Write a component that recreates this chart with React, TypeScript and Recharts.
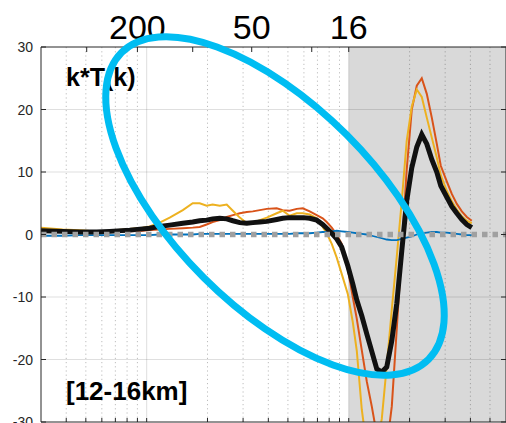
import { Line, LineChart, ReferenceArea, ReferenceLine, XAxis, YAxis } from "recharts";

// wavenumber samples shared by every curve (log axis)
const waveK = [
  3.0, 3.84, 4.66, 5.66, 6.56, 8.24, 9.55, 10.35, 11.6, 13.0, 15.1, 16.9, 18.3, 19.8, 21.2, 23.0, 24.9, 26.7, 28.9,
  31.3, 33.5, 36.3, 39.3, 44.0, 47.1, 51.0, 55.3, 59.2, 64.1, 69.4, 74.3, 77.8, 82.4, 87.2, 92.3, 98.9, 104.7, 109.6,
  116.0, 122.8, 130.0, 137.6, 145.7, 154.2, 163.3, 172.9, 183.0, 193.6, 205.1, 217.1, 229.8, 243.3, 257.6, 272.7,
  285.4, 305.5, 323.5, 342.6, 362.7, 383.9, 406.3,
];

const blueT = [
  -0.2, -0.2, -0.1, -0.1, -0.1, -0.1, -0.1, -0.1, 0.0, 0.0, 0.0, 0.0, 0.1, 0.1, 0.1, 0.1, 0.1, 0.1, 0.1, 0.1, 0.1, 0.1,
  0.1, 0.1, 0.1, 0.1, 0.2, 0.2, 0.2, 0.3, 0.4, 0.4, 0.5, 0.6, 0.5, 0.4, 0.3, 0.2, 0.1, 0.0, -0.2, -0.4, -0.6, -0.8,
  -0.9, -0.9, -0.7, -0.5, -0.3, 0.0, 0.2, 0.3, 0.4, 0.4, 0.3, 0.3, 0.2, 0.1, 0.0, -0.1, -0.1,
];

const orangeT = [
  0.5, 0.4, 0.3, 0.3, 0.4, 0.5, 0.6, 0.7, 0.8, 0.9, 1.0, 1.1, 1.2, 1.6, 2.0, 2.3, 2.8, 3.1, 3.4, 3.6, 3.7, 3.9, 4.1,
  4.2, 3.9, 3.8, 4.1, 4.2, 3.7, 3.1, 2.6, 2.0, 1.1, 0.0, -1.5, -5.5, -10.0, -13.5, -18.5, -23.5, -27.5, -32.0, -35.0,
  -34.0, -27.5, -15.0, -2.1, 10.4, 20.0, 23.8, 25.0, 22.5, 18.7, 14.5, 11.0, 8.5, 6.5, 4.9, 3.7, 2.8, 2.2,
];

const yellowT = [
  1.1, 0.8, 0.7, 0.5, 0.6, 0.9, 1.1, 1.3, 1.9, 2.7, 3.9, 5.0, 5.0, 4.6, 4.8, 4.6, 4.8, 3.8, 2.7, 1.8, 1.9, 2.3, 2.7,
  3.4, 3.8, 3.0, 3.4, 3.4, 3.2, 2.6, 1.2, 0.2, -1.5, -3.7, -6.3, -9.5, -14.0, -18.6, -28.0, -34.0, -36.0, -34.0, -29.5,
  -21.0, -12.0, -3.5, 5.4, 15.0, 20.5, 23.2, 22.0, 18.7, 15.5, 12.3, 9.5, 7.0, 5.3, 4.0, 2.9, 2.2, 1.8,
];

const blackT = [
  0.6, 0.5, 0.4, 0.4, 0.5, 0.7, 0.9, 1.0, 1.3, 1.5, 1.8, 2.0, 2.2, 2.3, 2.5, 2.6, 2.5, 2.2, 1.9, 1.8, 1.9, 2.0, 2.1,
  2.4, 2.6, 2.7, 2.7, 2.7, 2.6, 2.3, 1.6, 1.0, 0.2, -0.7, -2.0, -5.0, -7.9, -10.5, -13.0, -15.9, -18.7, -21.5, -22.0,
  -21.2, -17.0, -11.0, -2.6, 5.4, 10.7, 14.0, 16.0, 14.5, 12.0, 10.0, 7.8, 6.0, 4.5, 3.4, 2.4, 1.6, 1.1,
];

const yTicks = [-30, -20, -10, 0, 10, 20, 30];
const gridY = [-20, -10, 10, 20];
const majorK = [10, 100];
const minorK = [4, 5, 6, 7, 8, 9, 20, 30, 40, 50, 60, 70, 80, 90, 200, 300, 400, 500];
const bottomTickK = [4, 5, 6, 7, 8, 9, 10, 20, 30, 40, 50, 60, 70, 80, 90, 100, 200, 300, 400, 500];
const topTickK = [5.05, 9.0, 16.9, 33.1, 65.6, 100];
const topTickLabels = ["", "200", "", "50", "", "16"];

const K_DOMAIN: [number, number] = [3, 600];
const T_DOMAIN: [number, number] = [-30, 30];
const SHADE_FROM = 100;

const rows = waveK.map((k, i) => ({
  k,
  blue: blueT[i],
  orange: orangeT[i],
  yellow: yellowT[i],
  black: blackT[i],
}));

const AXIS_INK = "#262626";
const FONT = "'Liberation Sans', Arial, Helvetica, sans-serif";

function LeftTick({ x, y, payload }: any) {
  return (
    <g>
      <line x1={x + 8} x2={x + 13} y1={y} y2={y} stroke={AXIS_INK} />
      <text x={x} y={y} textAnchor="end" dominantBaseline="central" fontSize={14} fill={AXIS_INK} fontFamily={FONT}>
        {payload.value}
      </text>
    </g>
  );
}

function RightTick({ x, y }: any) {
  return <line x1={x - 8} x2={x - 13} y1={y} y2={y} stroke={AXIS_INK} />;
}

function BottomTick({ x, y }: any) {
  return <line x1={x} x2={x} y1={y - 8} y2={y - 12} stroke={AXIS_INK} />;
}

function TopTick({ x, y, payload }: any) {
  const label = topTickLabels[topTickK.indexOf(payload.value)];
  return (
    <g>
      <line x1={x} x2={x} y1={y + 8} y2={y + 13} stroke={AXIS_INK} />
      <text x={x} y={y} textAnchor="middle" fontSize={34} fill="#000" fontFamily={FONT}>
        {label}
      </text>
    </g>
  );
}

export default function App() {
  return (
    <div style={{ position: "absolute", left: 0, top: 0, width: 506, height: 423, overflow: "hidden", background: "#fff" }}>
      <LineChart width={520} height={440} data={rows} margin={{ top: 0, right: 4, bottom: 8, left: 0 }}>
        <XAxis
          xAxisId="bottom"
          dataKey="k"
          type="number"
          scale="log"
          domain={K_DOMAIN}
          allowDataOverflow
          ticks={bottomTickK}
          interval={0}
          height={10}
          tickSize={6}
          tickMargin={2}
          tickLine={false}
          tick={BottomTick}
          axisLine={{ stroke: AXIS_INK }}
        />
        <XAxis
          xAxisId="top"
          orientation="top"
          dataKey="k"
          type="number"
          scale="log"
          domain={K_DOMAIN}
          allowDataOverflow
          ticks={topTickK}
          interval={0}
          height={47}
          tickSize={6}
          tickMargin={2}
          tickLine={false}
          tick={TopTick}
          axisLine={{ stroke: AXIS_INK }}
        />
        <YAxis
          yAxisId="left"
          type="number"
          domain={T_DOMAIN}
          allowDataOverflow
          ticks={yTicks}
          interval={0}
          width={41}
          tickSize={6}
          tickMargin={2}
          tickLine={false}
          tick={LeftTick}
          axisLine={{ stroke: AXIS_INK }}
        />
        <YAxis
          yAxisId="right"
          orientation="right"
          type="number"
          domain={T_DOMAIN}
          allowDataOverflow
          ticks={yTicks}
          interval={0}
          width={10}
          tickSize={6}
          tickMargin={2}
          tickLine={false}
          tick={RightTick}
          axisLine={{ stroke: AXIS_INK }}
        />

        {/* shaded high-wavenumber band */}
        <ReferenceArea
          xAxisId="bottom"
          yAxisId="left"
          x1={SHADE_FROM}
          x2={K_DOMAIN[1]}
          y1={T_DOMAIN[0]}
          y2={T_DOMAIN[1]}
          fill="#D9D9D9"
          fillOpacity={1}
          stroke="none"
        />

        {/* grid */}
        {gridY.map((v) => (
          <ReferenceLine key={`gy${v}`} xAxisId="bottom" yAxisId="left" y={v} stroke={AXIS_INK} strokeOpacity={0.15} />
        ))}
        {majorK.map((v) => (
          <ReferenceLine key={`gx${v}`} xAxisId="bottom" yAxisId="left" x={v} stroke={AXIS_INK} strokeOpacity={0.15} />
        ))}
        {minorK.map((v) => (
          <ReferenceLine
            key={`mx${v}`}
            xAxisId="bottom"
            yAxisId="left"
            x={v}
            stroke={AXIS_INK}
            strokeOpacity={0.3}
            strokeDasharray="1.2 3"
          />
        ))}

        <Line xAxisId="bottom" yAxisId="left" dataKey="orange" stroke="#D95319" strokeWidth={2} dot={false} activeDot={false} isAnimationActive={false} />
        <Line xAxisId="bottom" yAxisId="left" dataKey="yellow" stroke="#EDB120" strokeWidth={2} dot={false} activeDot={false} isAnimationActive={false} />
        <Line xAxisId="bottom" yAxisId="left" dataKey="blue" stroke="#0072BD" strokeWidth={1.8} dot={false} activeDot={false} isAnimationActive={false} />
        <Line xAxisId="bottom" yAxisId="left" dataKey="black" stroke="#111111" strokeWidth={5} dot={false} activeDot={false} isAnimationActive={false} />

        {/* zero reference, dotted */}
        <ReferenceLine xAxisId="bottom" yAxisId="left" y={0} stroke="#A0A0A0" strokeWidth={5.5} strokeDasharray="5.5 5" />
      </LineChart>

      <svg width={506} height={423} style={{ position: "absolute", left: 0, top: 0, pointerEvents: "none" }}>
        <text x={66} y={86} fontSize={25} fontWeight="bold" fill="#000" fontFamily={FONT}>
          k*T(k)
        </text>
        <text x={66} y={400} fontSize={26} fontWeight="bold" fill="#000" fontFamily={FONT}>
          [12-16km]
        </text>
        <ellipse
          cx={275}
          cy={206}
          rx={217}
          ry={101}
          transform="rotate(45 275 206)"
          fill="none"
          stroke="#00BDF2"
          strokeWidth={7}
        />
      </svg>
    </div>
  );
}
